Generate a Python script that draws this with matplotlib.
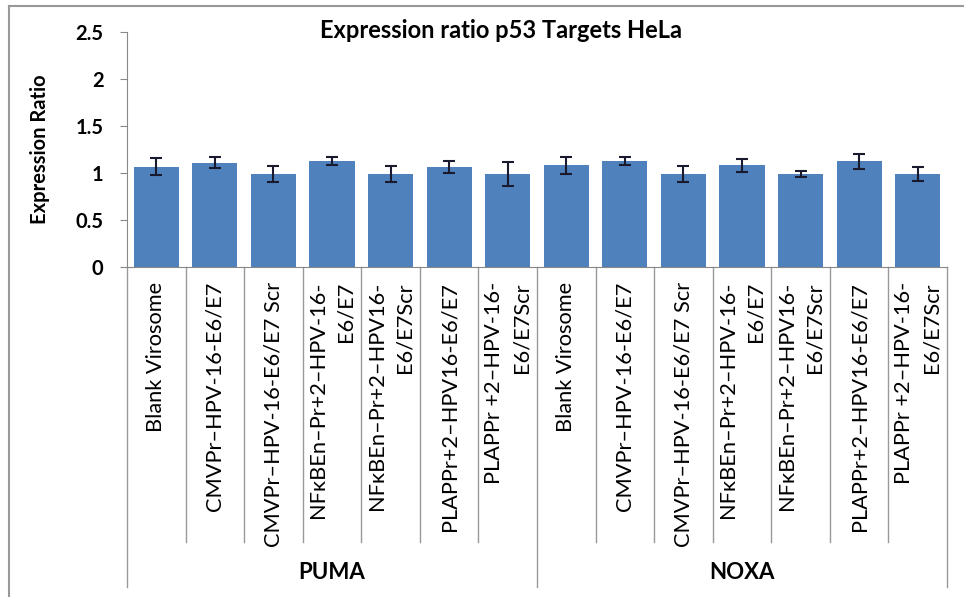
import matplotlib.pyplot as plt
from matplotlib.lines import Line2D
import matplotlib.transforms as mtransforms

plt.rcParams['font.family'] = ['Lato', 'DejaVu Sans']

groups = ['PUMA', 'NOXA']
conditions = ['Blank Virosome',
              'CMVPr\u2013HPV-16-E6/E7',
              'CMVPr\u2013HPV-16-E6/E7 Scr',
              'NF\u03baBEn\u2013Pr+2\u2013HPV-16-\nE6/E7',
              'NF\u03baBEn\u2013Pr+2\u2013HPV16-\nE6/E7Scr',
              'PLAPPr+2\u2013HPV16-E6/E7',
              'PLAPPr +2\u2013HPV-16-\nE6/E7Scr']
puma = [1.065, 1.11, 0.99, 1.125, 0.99, 1.065, 0.99]
puma_err = [0.09, 0.06, 0.085, 0.045, 0.085, 0.065, 0.125]
noxa = [1.08, 1.125, 0.99, 1.08, 0.99, 1.125, 0.99]
noxa_err = [0.095, 0.04, 0.085, 0.07, 0.035, 0.08, 0.07]

values = puma + noxa
errors = puma_err + noxa_err
labels = conditions + conditions
x = list(range(len(values)))

fig = plt.figure(figsize=(9.64, 5.97), dpi=100)
ax = fig.add_axes([127 / 964, 1 - 267 / 597, (947 - 127) / 964, (267 - 32) / 597])

ax.bar(x, values, width=0.77, color='#4F81BD', zorder=2)
ax.errorbar(x, values, yerr=errors, fmt='none', ecolor='#1a1a2e',
            elinewidth=1.5, capsize=4.5, capthick=1.5, zorder=3)

ax.set_xlim(-0.5, len(values) - 0.5)
ax.set_ylim(0, 2.5)
ax.set_yticks([0, 0.5, 1, 1.5, 2, 2.5])
ax.set_yticklabels(['0', '0.5', '1', '1.5', '2', '2.5'], fontsize=14.5, fontweight='bold')
ax.set_xticks([])
ax.tick_params(axis='y', length=5, color='#888888', pad=12)
for s in ['top', 'right']:
    ax.spines[s].set_visible(False)
ax.spines['left'].set_color('#888888')
ax.spines['bottom'].set_color('#888888')

ax.set_ylabel('Expression Ratio', fontsize=14.5, fontweight='bold', labelpad=18)
fig.text(501 / 964, 1 - 30 / 597, 'Expression ratio p53 Targets HeLa', ha='center',
         va='center', fontsize=17, fontweight='bold')

trans = mtransforms.blended_transform_factory(ax.transData, ax.transAxes)
axh = 267 - 32
for i, lab in enumerate(labels):
    ax.text(i, -15 / axh, lab, rotation=90, ha='center', va='top',
            multialignment='right', fontsize=15.7, transform=trans, linespacing=1.5)

# separators between categories and groups
n = len(conditions)
for b in range(len(values) + 1):
    xb = b - 0.5
    if b % n == 0:
        y_end = -(587 - 267) / axh
    else:
        y_end = -(542 - 267) / axh
    ax.add_line(Line2D([xb, xb], [0, y_end], transform=trans, color='#999999',
                       lw=1, clip_on=False))

for g, name in enumerate(groups):
    ax.text(g * n + (n - 1) / 2, -(572 - 267) / axh, name, ha='center', va='center',
            fontsize=16, fontweight='bold', transform=trans)

# chart border
fig.add_artist(Line2D([9 / 964, 9 / 964], [0, 1 - 6 / 597], color='#999999', lw=1.5))
fig.add_artist(Line2D([9 / 964, 1], [1 - 6 / 597, 1 - 6 / 597], color='#999999', lw=1.5))

fig.savefig('out.png', dpi=100)
